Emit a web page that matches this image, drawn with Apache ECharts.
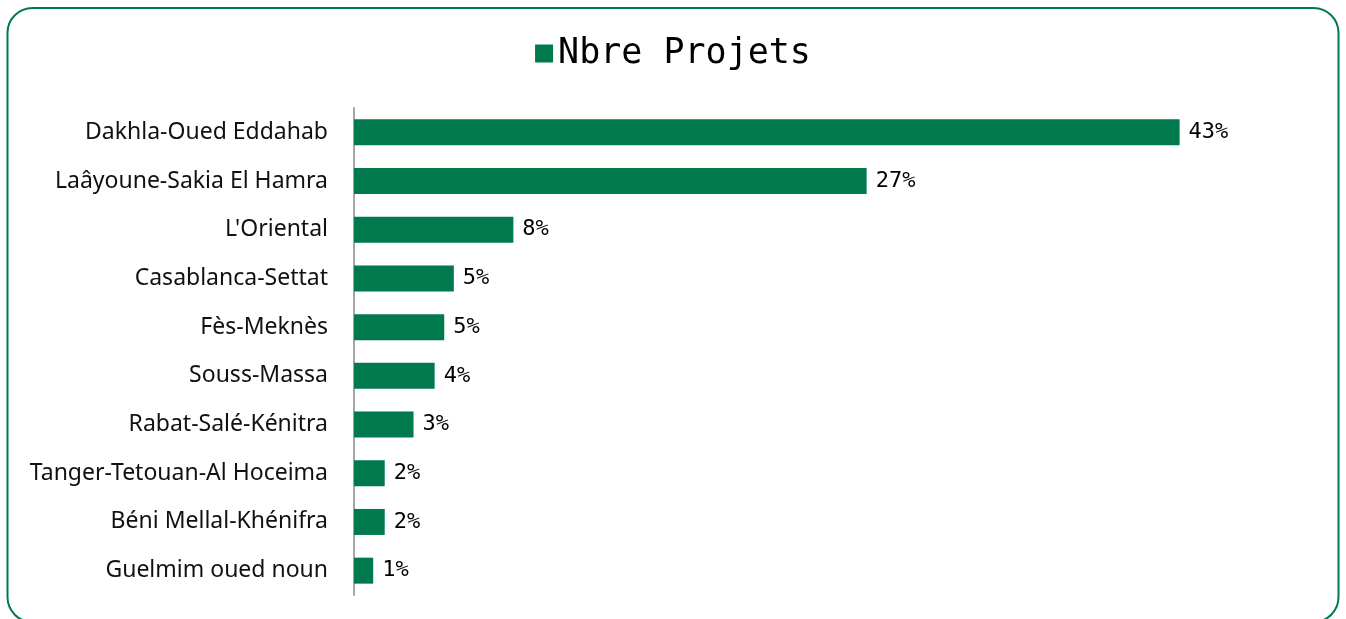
<!DOCTYPE html>
<html>
<head>
<meta charset="utf-8">
<script src="https://cdn.jsdelivr.net/npm/echarts@6/dist/echarts.min.js"></script>
<style>
  html, body { margin: 0; padding: 0; background: #fff; }
  #chart { width: 1346px; height: 619px; }
</style>
</head>
<body>
<div id="chart"></div>
<script>
// régions et part des projets (%)
var regions = [
  "Dakhla-Oued Eddahab",
  "Laâyoune-Sakia El Hamra",
  "L'Oriental",
  "Casablanca-Settat",
  "Fès-Meknès",
  "Souss-Massa",
  "Rabat-Salé-Kénitra",
  "Tanger-Tetouan-Al Hoceima",
  "Béni Mellal-Khénifra",
  "Guelmim oued noun"
];
var nbreProjets = [43, 26.7, 8.3, 5.2, 4.7, 4.2, 3.1, 1.6, 1.6, 1.0];

var vert = "#007a4d";

var chart = echarts.init(document.getElementById("chart"));

chart.setOption({
  animation: false,
  graphic: [
    {
      type: "rect",
      shape: { x: 7.5, y: 8, width: 1331, height: 614, r: 25 },
      style: { fill: null, stroke: vert, lineWidth: 2 },
      silent: true
    }
  ],
  legend: {
    data: ["Nbre Projets"],
    left: "center",
    top: 31,
    icon: "rect",
    itemWidth: 18,
    itemHeight: 18,
    itemGap: 9,
    textStyle: {
      fontFamily: "DejaVu Sans Mono",
      fontSize: 35,
      color: "#000"
    }
  },
  grid: {
    left: 354,
    top: 108,
    width: 960,
    height: 487
  },
  xAxis: {
    type: "value",
    min: 0,
    max: 50,
    show: false
  },
  yAxis: {
    type: "category",
    data: regions,
    inverse: true,
    axisTick: { show: false },
    axisLine: { lineStyle: { color: "#a6a6a6", width: 2 } },
    axisLabel: {
      margin: 26,
      fontFamily: "Noto Sans",
      fontSize: 23,
      color: "#111"
    }
  },
  series: [
    {
      name: "Nbre Projets",
      type: "bar",
      data: nbreProjets,
      barWidth: 26,
      itemStyle: { color: vert },
      label: {
        show: true,
        position: "right",
        distance: 9,
        fontFamily: "DejaVu Sans Mono",
        fontSize: 22,
        color: "#000",
        formatter: function (p) {
          return Math.round(p.value) + "%";
        }
      }
    }
  ]
});
</script>
</body>
</html>
